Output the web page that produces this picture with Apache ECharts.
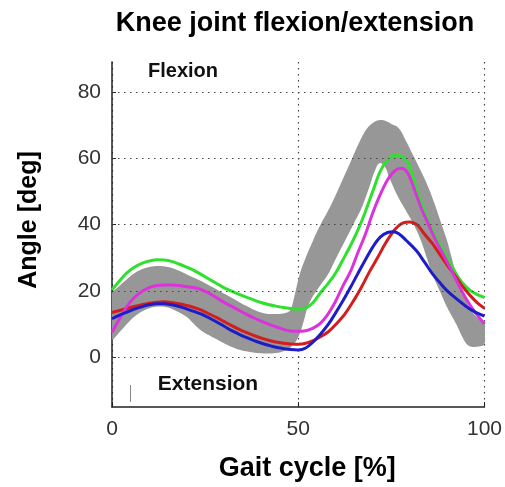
<!DOCTYPE html>
<html>
<head>
<meta charset="utf-8">
<script src="https://cdn.jsdelivr.net/npm/echarts@6/dist/echarts.min.js"></script>
<style>
  html, body { margin: 0; padding: 0; background: #fff; }
  #chart { width: 505px; height: 487px; }
</style>
</head>
<body>
<div id="chart"></div>
<script>
// Knee joint flexion/extension over the gait cycle: normative band plus four trials.

const xTicks = [0, 50, 100];
const yTicks = [0, 20, 40, 60, 80];

// Normative range: upper and lower edges of the grey band, [gait %, angle deg]
const bandUpper = [
  [0, 19], [2, 21.5], [4, 23.5], [6, 25.3], [8, 26.5], [10, 27.2], [12.5, 27.5],
  [15, 27.2], [17.5, 26.3], [20, 25], [22.5, 23.7], [25, 22.3], [28, 20.5],
  [32, 18], [36, 15.5], [40, 13.5], [44, 13], [47, 13.5], [48, 14.5], [49, 18.5],
  [50.4, 25], [52, 30], [53.9, 35], [56, 40], [58.4, 45], [60.5, 50], [62.5, 55],
  [64.5, 60], [66.5, 65], [68.5, 69], [70.5, 71], [72, 71.5], [73.5, 71.2],
  [75, 70.3], [77, 69], [79, 65], [81, 60.5], [83, 56], [85, 51], [87, 45],
  [88.5, 40], [90, 35], [91.2, 30], [92.4, 25], [94, 20], [96, 15], [98, 12],
  [100, 10.5]
];
const bandLower = [
  [0, 5.5], [2, 7.5], [4, 10], [6, 12.2], [8, 13.8], [10, 14.8], [12.5, 15.3],
  [15, 15], [17.5, 13.8], [20, 12.2], [22, 10], [24, 8], [28, 5.5], [32, 3.2],
  [36, 1.8], [40, 1.2], [44, 1.3], [46, 1.8], [48, 3], [50, 6], [51.5, 11],
  [52.5, 15], [54, 18.5], [56, 21.8], [58, 25], [60, 29.5], [62.5, 35],
  [65, 40.5], [67, 45], [69, 51], [70.5, 56], [71.8, 58.5], [73.2, 57.5],
  [74.5, 54], [76.5, 49], [78.5, 45], [81, 40], [83, 35], [84.5, 30], [86, 25],
  [88, 20], [90, 15], [92.4, 10], [94.6, 5], [96, 3.3], [98, 3.2], [100, 4]
];

// Individual trials, [gait %, angle deg]
const greenTrial = [
  [0, 20.3], [2, 23], [4, 25.4], [6, 27.1], [8, 28.3], [10, 29], [12, 29.4],
  [14, 29.3], [16, 28.9], [18, 28.1], [20, 27.2], [22, 26.2], [24, 24.9],
  [26, 23.6], [28, 22.3], [30, 21], [32, 20], [34, 19], [36, 18.1], [38, 17.3],
  [40, 16.5], [42, 15.9], [44, 15.4], [46, 15], [48, 14.7], [50, 14.5],
  [52, 14.8], [54, 16.5], [56, 19.5], [58, 22.2], [60, 25.3], [62, 29.4],
  [64, 33.6], [66, 38.3], [68, 43.8], [70, 50], [72, 56], [74, 59.5], [76, 61],
  [78, 60.5], [79.5, 58.5], [81, 53.5], [83, 46.5], [85, 41], [87, 36],
  [89, 32], [91, 28], [93, 24], [95, 21.3], [97, 19.5], [100, 18]
];
const redTrial = [
  [0, 13.5], [2, 14.1], [4, 14.7], [6, 15.3], [8, 15.8], [10, 16.3], [12, 16.6],
  [14, 16.7], [16, 16.5], [18, 16.1], [20, 15.6], [22, 15], [24, 14.2],
  [26, 13.1], [28, 12], [30, 10.8], [32, 9.6], [34, 8.5], [36, 7.5], [38, 6.6],
  [40, 5.8], [42, 5.1], [44, 4.6], [46, 4.2], [48, 4], [50, 3.9], [52, 4.2],
  [54, 5], [56, 6.2], [58, 7.6], [60, 9.8], [62.5, 13], [65, 17.3], [67, 21.2],
  [69, 25.5], [71.4, 30.2], [73.5, 34.5], [76, 38.6], [78, 40.4], [80, 40.8],
  [82, 39.8], [84, 37], [86, 34.3], [88, 31], [90, 27.8], [92.5, 24], [94, 21.5],
  [96, 18.8], [98, 16.5], [100, 14.8]
];
const magentaTrial = [
  [0, 7.5], [2, 11.5], [4, 15.3], [6, 18], [8, 19.8], [10, 21], [12, 21.6],
  [14, 21.8], [16, 21.8], [18, 21.6], [20, 21.3], [22, 21], [24, 20.4],
  [26, 19.3], [28, 18], [30, 16.6], [32, 15.4], [34, 14.2], [36, 13], [38, 11.9],
  [40, 10.9], [42, 10], [44, 9.2], [46, 8.4], [48, 7.9], [50, 7.8], [52, 8],
  [54, 8.8], [56, 10.3], [58, 13], [60, 16.8], [62, 21.5], [64, 25.8], [66, 31.5],
  [68, 37], [70, 43.5], [72, 49], [74, 53.5], [76, 56.3], [77.8, 57],
  [79.4, 55.5], [81.2, 50.5], [83, 45], [85, 40], [87, 35], [89, 30.8],
  [91, 26.5], [93, 22], [95, 17.8], [97, 14.3], [100, 10]
];
const blueTrial = [
  [0, 11.6], [2, 12.7], [4, 13.6], [6, 14.5], [8, 15.2], [10, 15.8], [12, 16.1],
  [14, 16.1], [16, 15.8], [18, 15.3], [20, 14.6], [22, 13.8], [24, 13],
  [26, 11.9], [28, 10.7], [30, 9.4], [32, 8.1], [34, 7], [36, 6], [38, 5.1],
  [40, 4.3], [42, 3.6], [44, 3], [46, 2.6], [48, 2.3], [50, 2.2], [52, 2.8],
  [54, 4.6], [56, 7], [58, 9.8], [60, 13.3], [62, 17], [64, 21], [66, 25.2],
  [68, 29.3], [70, 33.2], [72, 36.2], [74, 37.6], [75.5, 37.8], [77, 37.2],
  [79, 35.2], [81.8, 32], [84, 28.5], [86, 25.2], [88, 22.5], [90, 20],
  [92.5, 17.6], [95, 15.4], [97.5, 13.6], [100, 12.4]
];

const FONT = '"Liberation Sans", Arial, Helvetica, sans-serif';
const dotted = [1.5, 4.5];

function trialSeries(data, color, z) {
  return {
    type: 'line', data: data, z: z, smooth: 0.35, showSymbol: false, silent: true,
    lineStyle: { color: color, width: 3 }, clip: true
  };
}

const chart = echarts.init(document.getElementById('chart'), null, { renderer: 'canvas' });
chart.setOption({
  animation: false,
  backgroundColor: '#ffffff',
  title: {
    text: 'Knee joint flexion/extension',
    left: 290, top: 5, textAlign: 'center',
    textStyle: { fontFamily: FONT, fontSize: 27, fontWeight: 'bold', color: '#000' }
  },
  grid: { left: 112, right: 20, top: 62, bottom: 77 },
  xAxis: {
    type: 'value', min: 0, max: 100, interval: 50,
    name: 'Gait cycle [%]', nameLocation: 'middle', nameGap: 48,
    nameTextStyle: { fontFamily: FONT, fontSize: 27, fontWeight: 'bold', color: '#000', padding: [0, 0, 0, 18] },
    axisLine: { show: true, onZero: false, lineStyle: { color: '#222', width: 1.5 } },
    axisTick: { show: true, inside: true, length: 5, lineStyle: { color: '#222' } },
    axisLabel: { fontFamily: FONT, fontSize: 21, color: '#333', margin: 12 },
    splitLine: { show: true, lineStyle: { type: dotted, color: '#444', width: 1.2 } }
  },
  yAxis: {
    type: 'value', min: -15, max: 89,
    name: 'Angle [deg]', nameLocation: 'middle', nameGap: 70,
    nameTextStyle: { fontFamily: FONT, fontSize: 25, fontWeight: 'bold', color: '#000', padding: [0, 0, 0, 29] },
    axisLine: { show: true, onZero: false, lineStyle: { color: '#222', width: 1.5 } },
    axisTick: { show: true, inside: true, length: 4, customValues: yTicks, lineStyle: { color: '#222' } },
    axisLabel: { fontFamily: FONT, fontSize: 21, color: '#333', margin: 11, customValues: yTicks },
    splitLine: { show: false }
  },
  graphic: [
    { type: 'rect', z: 1.5, silent: true, shape: { x: 118, y: 63, width: 138, height: 36 }, style: { fill: '#fff' } },
    { type: 'rect', z: 1.5, silent: true, shape: { x: 131, y: 359, width: 165, height: 46 }, style: { fill: '#fff' } },
    { type: 'text', z: 10, silent: true, style: { text: 'Flexion', x: 183, y: 71, align: 'center', verticalAlign: 'middle', font: 'bold 20px ' + FONT, fill: '#111' } },
    { type: 'text', z: 10, silent: true, style: { text: 'Extension', x: 208, y: 384, align: 'center', verticalAlign: 'middle', font: 'bold 21px ' + FONT, fill: '#111' } },
    { type: 'line', z: 10, silent: true, shape: { x1: 130.5, y1: 385, x2: 130.5, y2: 402 }, style: { stroke: '#888', lineWidth: 1 } }
  ],
  series: [
    {
      // horizontal dotted grid at the labelled angles
      type: 'line', data: [], z: 1, silent: true,
      markLine: {
        silent: true, symbol: ['none', 'none'], label: { show: false }, animation: false,
        lineStyle: { type: dotted, color: '#444', width: 1.2 },
        data: yTicks.map(v => ({ yAxis: v }))
      }
    },
    {
      // normative band
      type: 'custom', z: 2, silent: true, clip: true,
      data: [[0, 0]],
      renderItem: function (params, api) {
        const pts = bandUpper.map(p => api.coord(p))
          .concat(bandLower.slice().reverse().map(p => api.coord(p)));
        return { type: 'polygon', shape: { points: pts, smooth: 0.4 }, style: { fill: '#979797' } };
      }
    },
    trialSeries(greenTrial, '#2fe02f', 3),
    trialSeries(redTrial, '#d21e1e', 4),
    trialSeries(magentaTrial, '#dc32dc', 5),
    trialSeries(blueTrial, '#1c1cc8', 6)
  ]
});
</script>
</body>
</html>
